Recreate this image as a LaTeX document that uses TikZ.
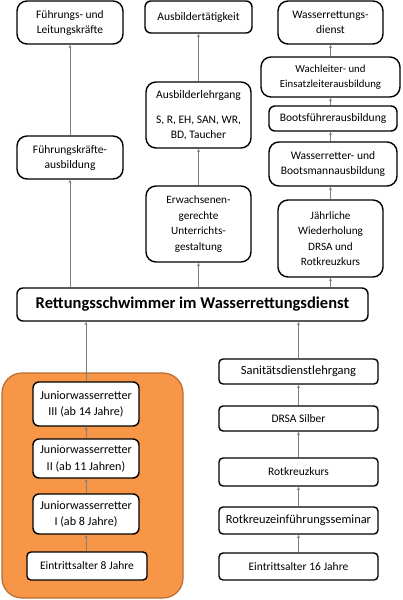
\documentclass[tikz,border=0pt]{standalone}
\usepackage{fontspec}
\setmainfont{Carlito}
\usetikzlibrary{arrows.meta}
\definecolor{orfill}{HTML}{F79646}
\definecolor{ordraw}{HTML}{B66D31}
\begin{document}
\begin{tikzpicture}[x=1pt,y=-1pt,
  box/.style={draw=black, line width=1.4, rounded corners=6, fill=white, align=center,
    inner sep=0pt, font=\fontsize{11.5}{15}\selectfont},
  bbox/.style={box, rounded corners=10},
  sbox/.style={box, rounded corners=4},
  jbox/.style={box, minimum width=106, font=\fontsize{12.1}{16.5}\selectfont},
  arr/.style={draw=black!50, line width=0.8, -{Stealth[length=3.5pt,width=3pt]}}]
\useasboundingbox (0,0) rectangle (402,600);
\node[draw=ordraw, fill=orfill, line width=1.2, rounded corners=20, minimum width=181, minimum height=225] (orange) at (92.5,485.5) {};
% top row
\node[bbox, minimum width=106, minimum height=43] (flk) at (70,22.5) {Führungs- und\\Leitungskräfte};
\node[box, minimum width=107, minimum height=32] (aus) at (198.5,17) {Ausbildertätigkeit};
\node[bbox, minimum width=105, minimum height=43] (wrd) at (330.5,22.5) {Wasserrettungs-\\dienst};
\node[bbox, minimum width=139, minimum height=40, font=\fontsize{10.8}{15.5}\selectfont] (wach) at (330.5,77) {Wachleiter- und\\Einsatzleiterausbildung};
\node[box, minimum width=128, minimum height=25] (boot) at (333,118.5) {Bootsführerausbildung};
\node[bbox, minimum width=128, minimum height=44] (wrb) at (333,164) {Wasserretter- und\\Bootsmannausbildung};
\node[bbox, minimum width=105, minimum height=66] (alg) at (198.5,115) {Ausbilderlehrgang\\[10pt]S, R, EH, SAN, WR,\\BD, Taucher};
\node[bbox, minimum width=106, minimum height=43] (fka) at (70,157.5) {Führungskräfte-\\ausbildung};
\node[bbox, minimum width=105, minimum height=76, font=\fontsize{11.2}{15.5}\selectfont] (erw) at (198.5,224) {Erwachsenen-\\gerechte\\Unterrichts-\\gestaltung};
\node[bbox, minimum width=105, minimum height=77, font=\fontsize{11.2}{15.5}\selectfont] (jwd) at (330.5,238.5) {Jährliche\\Wiederholung\\DRSA und\\Rotkreuzkurs};
\node[box, minimum width=351, minimum height=33, font=\fontsize{16.5}{18}\selectfont\bfseries] (rett) at (192.5,304.5) {Rettungsschwimmer im Wasserrettungsdienst};
% bottom left
\node[jbox, minimum height=44] (jw3) at (86,404) {Juniorwasserretter\\III (ab 14 Jahre)};
\node[jbox, minimum height=39] (jw2) at (86,458.5) {Juniorwasserretter\\II (ab 11 Jahren)};
\node[jbox, minimum height=40] (jw1) at (86,514) {Juniorwasserretter\\I (ab 8 Jahre)};
\node[sbox, minimum width=120, minimum height=28] (ea8) at (87,566) {Eintrittsalter 8 Jahre};
% bottom right
\node[sbox, minimum width=159, minimum height=25, font=\fontsize{12.5}{15}\selectfont] (san) at (298.5,371.5) {Sanitätsdienstlehrgang};
\node[sbox, minimum width=159, minimum height=25] (drsa) at (298.5,418.5) {DRSA Silber};
\node[sbox, minimum width=159, minimum height=28] (rkk) at (298.5,472) {Rotkreuzkurs};
\node[sbox, minimum width=159, minimum height=27, font=\fontsize{12.4}{15}\selectfont] (rkes) at (298.5,520.5) {Rotkreuzeinführungsseminar};
\node[sbox, minimum width=159, minimum height=27] (ea16) at (298.5,566.5) {Eintrittsalter 16 Jahre};
% arrows: left column
\draw[arr] (rett.north -| fka) -- (fka.south);
\draw[arr] (fka.north) -- (flk.south);
% middle column
\draw[arr] (rett.north -| erw) -- (erw.south);
\draw[arr] (erw.north) -- (alg.south);
\draw[arr] (alg.north) -- (aus.south);
% right column
\draw[arr] (rett.north -| jwd) -- (jwd.south);
\draw[arr] (jwd.north) -- (wrb.south -| jwd);
\draw[arr] (wrb.north -| jwd) -- (boot.south -| jwd);
\draw[arr] (boot.north -| jwd) -- (wach.south -| jwd);
\draw[arr] (wach.north -| jwd) -- (wrd.south -| jwd);
% bottom left
\draw[arr] (ea8.north -| jw1) -- (jw1.south);
\draw[arr] (jw1.north) -- (jw2.south);
\draw[arr] (jw2.north) -- (jw3.south);
\draw[arr] (jw3.north) -- (rett.south -| jw3);
% bottom right
\draw[arr] (ea16.north) -- (rkes.south);
\draw[arr] (rkes.north) -- (rkk.south);
\draw[arr] (rkk.north) -- (drsa.south);
\draw[arr] (drsa.north) -- (san.south);
\draw[arr] (san.north) -- (rett.south -| san);
\end{tikzpicture}
\end{document}
